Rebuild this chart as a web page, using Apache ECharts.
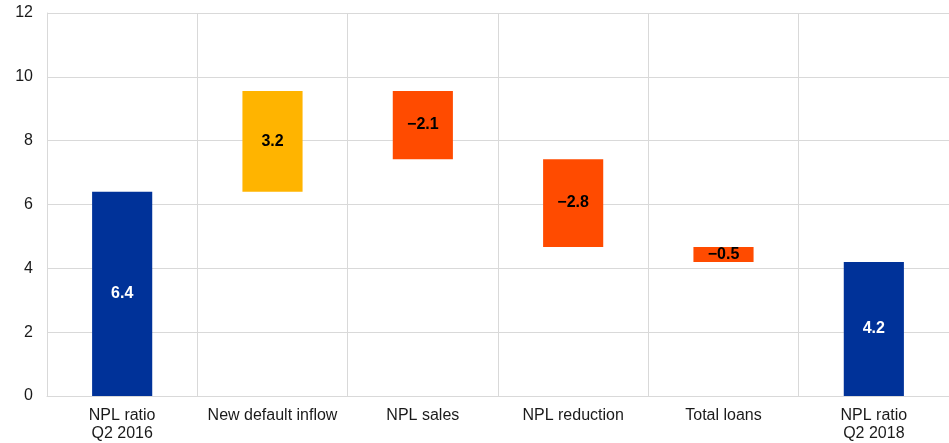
<!DOCTYPE html>
<html>
<head>
<meta charset="utf-8">
<script src="https://cdn.jsdelivr.net/npm/echarts@6/dist/echarts.min.js"></script>
<style>
html,body{margin:0;padding:0;background:#fff;}
#chart{width:949px;height:443px;}
</style>
</head>
<body>
<div id="chart"></div>
<script>
const categories = ['NPL ratio\nQ2 2016', 'New default inflow', 'NPL sales', 'NPL reduction', 'Total loans', 'NPL ratio\nQ2 2018'];
// step type: 'total' bars start at zero, 'delta' bars float
const stepTypes = ['total', 'delta', 'delta', 'delta', 'delta', 'total'];
const values = [6.4, 3.16, -2.14, -2.75, -0.47, 4.2];
const colors = ['#003299', '#FFB400', '#FF4B00', '#FF4B00', '#FF4B00', '#003299'];
const labelColors = ['#ffffff', '#000000', '#000000', '#000000', '#000000', '#ffffff'];
const yTicks = [0, 2, 4, 6, 8, 10, 12];

// build waterfall base + visible heights
const baseData = [];
const barData = [];
let running = 0;
values.forEach((v, i) => {
  if (stepTypes[i] === 'total') {
    baseData.push(0);
    barData.push({ value: v, itemStyle: { color: colors[i] }, label: { color: labelColors[i] } });
    running = v;
  } else {
    const start = running;
    const end = running + v;
    baseData.push(Math.min(start, end));
    barData.push({ value: Math.abs(v), itemStyle: { color: colors[i] }, label: { color: labelColors[i] } });
    running = end;
  }
});

const chart = echarts.init(document.getElementById('chart'));
chart.setOption({
  animation: false,
  grid: { left: 47, right: -1, top: 13, bottom: 46, containLabel: false },
  xAxis: {
    type: 'category',
    data: categories,
    axisLine: { show: true, lineStyle: { color: '#d9d9d9', width: 1 } },
    axisTick: { show: false },
    splitLine: { show: true, lineStyle: { color: '#d9d9d9', width: 1 } },
    axisLabel: {
      color: '#1a1a1a',
      fontFamily: 'Liberation Sans, Arial, sans-serif',
      fontSize: 16,
      lineHeight: 18,
      margin: 11,
      interval: 0
    }
  },
  yAxis: {
    type: 'value',
    min: yTicks[0],
    max: yTicks[yTicks.length - 1],
    interval: yTicks[1] - yTicks[0],
    axisLine: { show: true, lineStyle: { color: '#d9d9d9', width: 1 } },
    axisTick: { show: false },
    splitLine: { show: true, lineStyle: { color: '#d9d9d9', width: 1 } },
    axisLabel: {
      color: '#1a1a1a',
      fontFamily: 'Liberation Sans, Arial, sans-serif',
      fontSize: 16,
      margin: 14
    }
  },
  series: [
    {
      type: 'bar',
      stack: 'wf',
      data: baseData,
      itemStyle: { color: 'transparent' },
      barWidth: '40%',
      silent: true
    },
    {
      type: 'bar',
      stack: 'wf',
      data: barData,
      barWidth: '40%',
      label: {
        show: true,
        position: 'inside',
        fontFamily: 'Liberation Sans, Arial, sans-serif',
        fontSize: 16,
        fontWeight: 'bold',
        formatter: p => values[p.dataIndex].toFixed(1).replace('-', '\u2212')
      }
    }
  ]
});
</script>
</body>
</html>
